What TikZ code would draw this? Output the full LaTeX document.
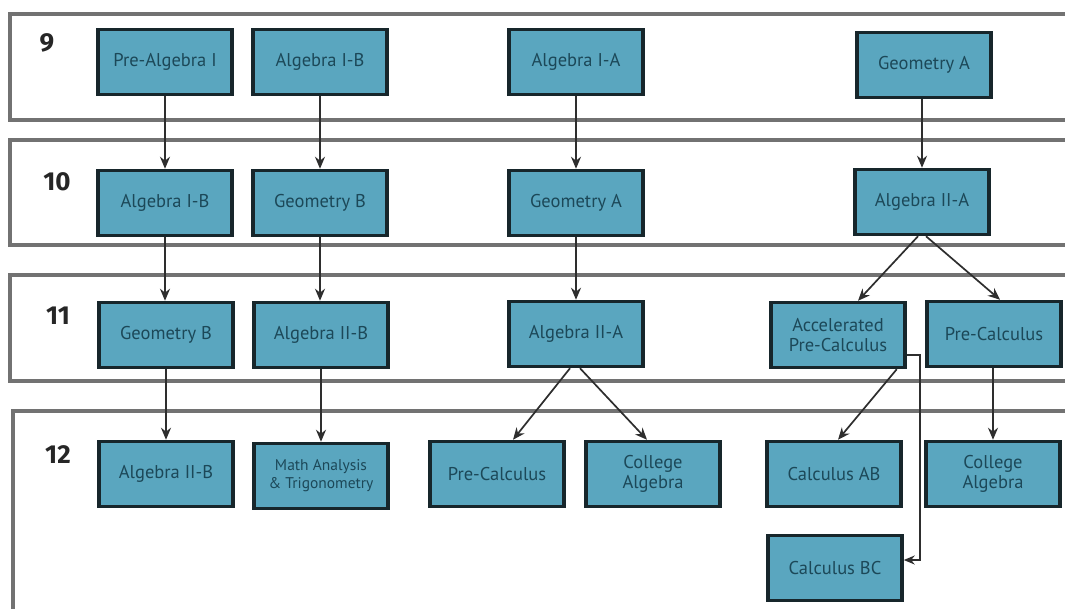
\documentclass[tikz,border=0pt]{standalone}
\usepackage{fontspec}
\setmainfont{PT Sans}
\newfontfamily\gradefont{Fira Sans}
\usetikzlibrary{arrows.meta}
\definecolor{boxfill}{HTML}{5AA6BF}
\definecolor{boxtext}{HTML}{1C4858}
\definecolor{boxline}{HTML}{17262B}
\definecolor{bandline}{HTML}{727272}
\definecolor{arrowcol}{HTML}{2E2E2E}
\tikzset{
  course/.style={draw=boxline, line width=3.5pt, fill=boxfill, text=boxtext,
    minimum width=134pt, minimum height=65pt, inner sep=1pt, align=center,
    font=\fontsize{18.5}{20}\selectfont},
  smallcourse/.style={course, font=\fontsize{15.5}{18}\selectfont},
  band/.style={draw=bandline, line width=4pt},
  grade/.style={font=\gradefont\fontsize{26}{26}\bfseries\selectfont, text=black!85, inner sep=0pt},
  flow/.style={draw=arrowcol, line width=1.7pt, -{Stealth[length=12pt,width=10pt]}},
  thinflow/.style={draw=arrowcol, line width=1.3pt, -{Stealth[length=11pt,width=9pt]}}
}
\begin{document}
\begin{tikzpicture}[x=1pt,y=-1pt]
\useasboundingbox (0,0) rectangle (1065,608);
\clip (0,0) rectangle (1065,608);
\fill[white] (0,0) rectangle (1065,608);
% bands
\draw[band] (10,14) rectangle (1080,120);
\draw[band] (10,140) rectangle (1080,245);
\draw[band] (10,275) rectangle (1080,381);
\draw[band] (13,411) rectangle (1080,615);
% grade labels
\node[grade] (g9)  at (47,43)  {9};
\node[grade] (g10) at (57,182) {10};
\node[grade] (g11) at (58,316) {11};
\node[grade] (g12) at (58,455) {12};
% row 9
\node[course] (pa1) at (165,62) {Pre-Algebra I};
\node[course] (a1b9) at (320,62) {Algebra I-B};
\node[course] (a1a) at (576,62) {Algebra I-A};
\node[course] (geoa9) at (924,65) {Geometry A};
% row 10
\node[course] (a1b10) at (165,203) {Algebra I-B};
\node[course] (geob10) at (320,203) {Geometry B};
\node[course] (geoa10) at (576,203) {Geometry A};
\node[course] (a2a10) at (922,202) {Algebra II-A};
% row 11
\node[course] (geob11) at (166,335) {Geometry B};
\node[course] (a2b11) at (321,335) {Algebra II-B};
\node[course] (a2a11) at (576,334) {Algebra II-A};
\node[course] (accpc) at (838,335) {Accelerated\\Pre-Calculus};
\node[course] (pc11) at (994,334) {Pre-Calculus};
% row 12
\node[course] (a2b12) at (166,474) {Algebra II-B};
\node[smallcourse] (mat) at (321,476) {Math Analysis\\\& Trigonometry};
\node[course] (pc12) at (497,474) {Pre-Calculus};
\node[course] (ca12) at (653,474) {College\\Algebra};
\node[course] (cab) at (834,474) {Calculus AB};
\node[course] (ca12b) at (993,474) {College\\Algebra};
\node[course] (cbc) at (835,568) {Calculus BC};
\coordinate (bcturn) at (920,355);
\coordinate (bcend) at (920,560);
% arrows
\draw[flow] (pa1.south) -- (a1b10.north);
\draw[flow] (a1b9.south) -- (geob10.north);
\draw[flow] (a1a.south) -- (geoa10.north);
\draw[flow] (geoa9.south -| a2a10.north) -- (a2a10.north);
\draw[flow] (a1b10.south) -- (a1b10.south |- geob11.north);
\draw[flow] (geob10.south) -- (geob10.south |- a2b11.north);
\draw[flow] (geoa10.south) -- (a2a11.north);
\draw[flow] ([xshift=-4pt]a2a10.south) -- ([xshift=20pt]accpc.north);
\draw[flow] ([xshift=4pt]a2a10.south) -- ([xshift=6pt]pc11.north);
\draw[flow] (geob11.south) -- (a2b12.north);
\draw[flow] (a2b11.south) -- (a2b11.south |- mat.north);
\draw[flow] ([xshift=-6pt]a2a11.south) -- ([xshift=16pt]pc12.north);
\draw[flow] ([xshift=4pt]a2a11.south) -- ([xshift=-6pt]ca12.north);
\draw[flow] ([xshift=-10pt]accpc.south east) -- ([xshift=4pt]cab.north);
\draw[flow] (pc11.south -| ca12b.north) -- (ca12b.north);
\draw[thinflow] (accpc.east |- bcturn) -- (bcturn) -- (bcend) -- (cbc.east |- bcend);
\end{tikzpicture}
\end{document}
